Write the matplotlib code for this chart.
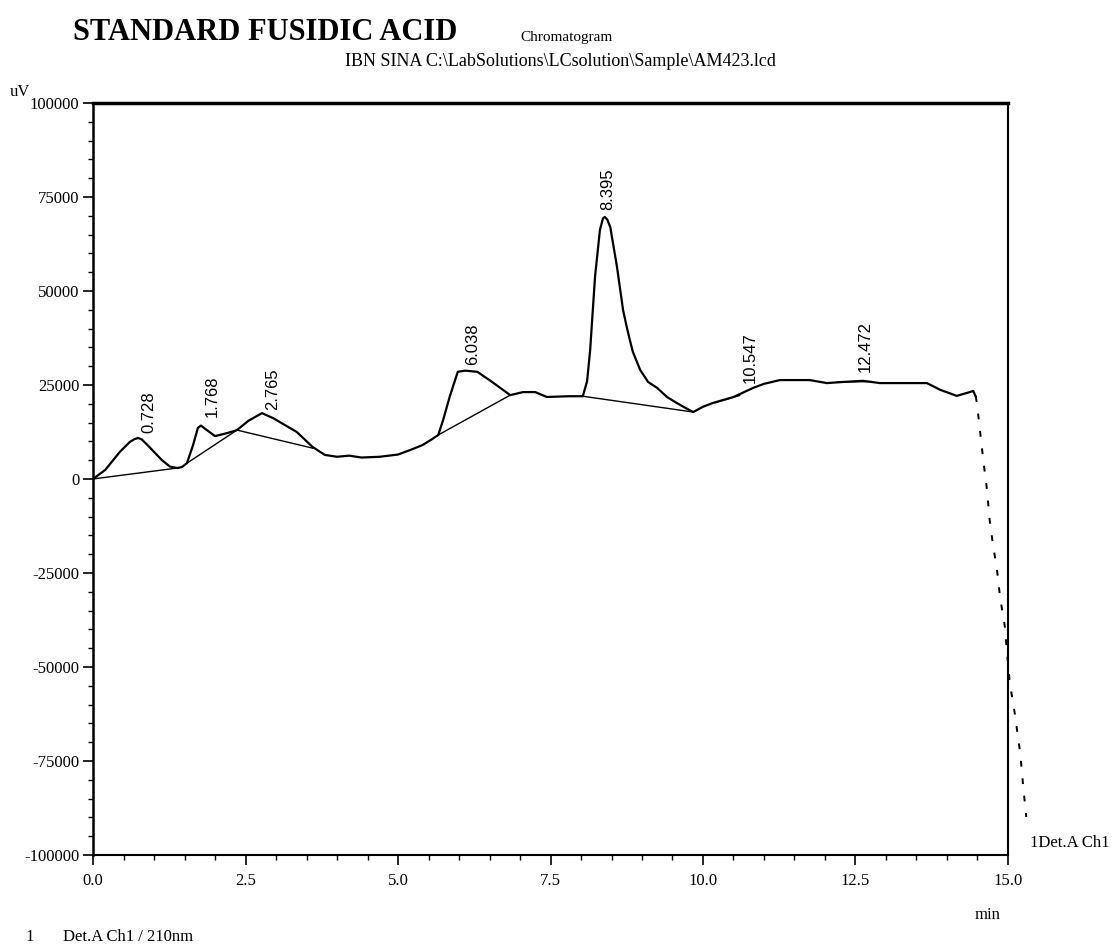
import matplotlib
matplotlib.use("Agg")
import matplotlib.pyplot as plt
from matplotlib.ticker import MultipleLocator, FuncFormatter

# ---- data ----
time_min = [0.0, 0.2, 0.44, 0.6, 0.68, 0.74, 0.8, 0.9, 1.0, 1.13, 1.26, 1.38, 1.46, 1.54, 1.64, 1.72, 1.77,
            1.85, 2.0, 2.2, 2.36, 2.55, 2.77, 2.95, 3.15, 3.34, 3.6, 3.8, 4.0, 4.2, 4.4, 4.7,
            5.0, 5.2, 5.4, 5.55, 5.66, 5.74, 5.85, 5.98, 6.1, 6.3, 6.5, 6.72, 6.84, 7.05, 7.25,
            7.44, 7.8, 8.03, 8.1, 8.15, 8.23, 8.31, 8.36, 8.39, 8.43, 8.48, 8.59, 8.69, 8.75, 8.8,
            8.85, 8.97, 9.1, 9.25, 9.41, 9.57, 9.7, 9.84, 10.0, 10.16, 10.5, 10.82, 11.0, 11.26,
            11.75, 12.03, 12.3, 12.62, 12.9, 13.67, 13.89, 14.16, 14.33, 14.43, 14.47]
signal_uv = [0, 2400, 7200, 9800, 10600, 10900, 10500, 8900, 7200, 5000, 3300, 2900, 3200, 4200, 9000, 13600, 14200,
             13200, 11400, 12200, 13000, 15500, 17500, 16200, 14300, 12500, 8500, 6400, 5900, 6200, 5700, 5900,
             6500, 7700, 9000, 10500, 11700, 15700, 22000, 28500, 28800, 28500, 26300, 23700, 22300, 23100, 23100,
             21800, 22000, 22000, 26000, 34300, 53800, 66200, 69300, 69700, 69000, 67000, 56400, 44900, 40400, 37000,
             33800, 29000, 25800, 24200, 21800, 20200, 19000, 17800, 19200, 20200, 21800, 24200, 25300, 26300,
             26300, 25500, 25800, 26100, 25500, 25500, 23700, 22100, 22900, 23400, 22000]

tail_time = [14.47, 14.49, 14.54, 14.60, 14.65, 14.70, 14.75, 14.82, 14.87, 14.95, 14.98,
             15.03, 15.11, 15.20, 15.25, 15.30]
tail_uv = [22000, 20200, 13000, 4300, -2100, -10900, -17000, -24200, -31400, -39400, -45500,
           -54300, -62200, -72900, -81900, -89900]

baseline_start_t = [0.0, 1.54, 2.36, 5.66, 8.03, 10.2, 12.2]
baseline_start_uv = [0, 4200, 13000, 11700, 22000, 20300, 25800]
baseline_end_t = [1.38, 2.36, 3.6, 6.84, 9.84, 10.6, 12.75]
baseline_end_uv = [2900, 13000, 8200, 22300, 17800, 22200, 25900]

peak_names = ["0.728", "1.768", "2.765", "6.038", "8.395", "10.547", "12.472"]
peak_time = [0.728, 1.768, 2.765, 6.038, 8.395, 10.547, 12.472]
peak_label_uv = [12200, 16500, 18400, 30300, 71500, 25500, 28500]
label_dx_pt = [8, 8, 8, 8, 2, 10, 8]

x_ticks = [0.0, 2.5, 5.0, 7.5, 10.0, 12.5, 15.0]
y_ticks = [-100000, -75000, -50000, -25000, 0, 25000, 50000, 75000, 100000]

# ---- figure ----
serif = ["Liberation Serif", "DejaVu Serif"]
sans = ["Liberation Sans", "DejaVu Sans"]
plt.rcParams["font.family"] = serif

fig = plt.figure(figsize=(11.18, 9.49), dpi=100)
ax = fig.add_axes([0.0832, 0.0991, 0.8184, 0.7924])

ax.plot(time_min, signal_uv, color="black", lw=1.6, solid_joinstyle="round")
ax.plot(tail_time, tail_uv, color="black", lw=1.4, linestyle=(0, (3, 6)), clip_on=False)
for t0, v0, t1, v1 in zip(baseline_start_t, baseline_start_uv, baseline_end_t, baseline_end_uv):
    ax.plot([t0, t1], [v0, v1], color="black", lw=1.0)

for name, t, v, dx in zip(peak_names, peak_time, peak_label_uv, label_dx_pt):
    ax.annotate(name, xy=(t, v), xytext=(dx, 0), textcoords="offset points",
                rotation=90, ha="center", va="bottom", fontsize=12, family=sans)

ax.set_xlim(0, 15)
ax.set_ylim(-100000, 100000)
ax.set_xticks(x_ticks)
ax.set_yticks(y_ticks)
ax.xaxis.set_minor_locator(MultipleLocator(0.5))
ax.yaxis.set_minor_locator(MultipleLocator(5000))
ax.xaxis.set_major_formatter(FuncFormatter(lambda v, p: f"{v:.1f}"))
ax.yaxis.set_major_formatter(FuncFormatter(lambda v, p: f"{int(v)}"))
ax.tick_params(axis="both", which="major", direction="out", length=7, width=1.2,
               labelsize=12, pad=3)
ax.tick_params(axis="both", which="minor", direction="out", length=3.5, width=1.0)
ax.tick_params(axis="x", which="major", pad=6)

ax.spines["top"].set_linewidth(2.5)
ax.spines["left"].set_linewidth(1.8)
ax.spines["right"].set_linewidth(1.5)
ax.spines["bottom"].set_linewidth(1.5)

# ---- texts ----
fig.text(73 / 1118, 1 - 32 / 949, "STANDARD FUSIDIC ACID", fontsize=22, fontweight="bold",
         va="center", ha="left")
fig.text(520 / 1118, 1 - 37 / 949, "Chromatogram", fontsize=11, va="center", ha="left")
fig.text(345 / 1118, 1 - 62 / 949, "IBN SINA C:\\LabSolutions\\LCsolution\\Sample\\AM423.lcd",
         fontsize=13, va="center", ha="left")
fig.text(10 / 1118, 1 - 92 / 949, "uV", fontsize=12, va="center", ha="left")
fig.text(975 / 1118, 1 - 915 / 949, "min", fontsize=12, va="center", ha="left")
fig.text(1030 / 1118, 1 - 843 / 949, "1Det.A Ch1", fontsize=12, va="center", ha="left")
fig.text(25 / 1118, 1 - 937 / 949, "1", fontsize=12, va="center", ha="left")
fig.text(63 / 1118, 1 - 937 / 949, "Det.A Ch1 / 210nm", fontsize=12, va="center", ha="left")

fig.savefig("out.png", dpi=100)
